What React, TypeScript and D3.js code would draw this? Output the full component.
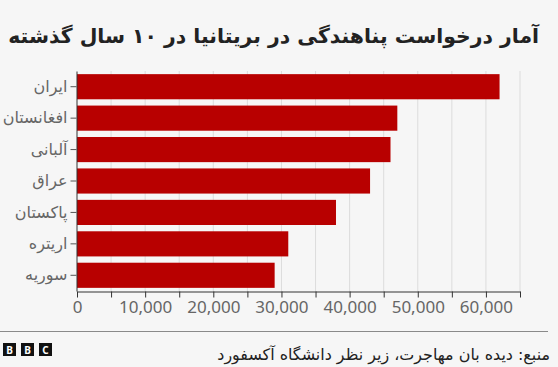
import React, { useEffect, useRef } from 'react';
import * as d3 from 'd3';

const countries = ['ایران', 'افغانستان', 'آلبانی', 'عراق', 'پاکستان', 'اریتره', 'سوریه'];
const applications = [62000, 47000, 46000, 43000, 38000, 31000, 29000];
const tickValues = [0, 5000, 10000, 15000, 20000, 25000, 30000, 35000, 40000, 45000, 50000, 55000, 60000, 65000];
const labelledTicks = [0, 10000, 20000, 30000, 40000, 50000, 60000];

const title = 'آمار درخواست پناهندگی در بریتانیا در ۱۰ سال گذشته';
const source = 'منبع: دیده بان مهاجرت، زیر نظر دانشگاه آکسفورد';

const persianFont = '"DejaVu Sans", "Noto Sans", sans-serif';
const latinFont = '"Noto Sans", "Open Sans", sans-serif';

// shrink/grow a text's font size so it takes the wanted width
const fitWidth = (sel: d3.Selection<SVGTextElement, unknown, null, undefined>, size: number, target: number) => {
  const w = sel.node()!.getComputedTextLength();
  if (w > 0) sel.style('font-size', `${(size * target) / w}px`);
};

export default function App() {
  const ref = useRef<HTMLDivElement>(null);

  useEffect(() => {
    document.body.style.margin = '0';
    if (!ref.current) return;
    d3.select(ref.current).selectAll('*').remove();

    const width = 558;
    const height = 367;
    const margin = { top: 71, right: 38, bottom: 76, left: 77 };

    const svg = d3
      .select(ref.current)
      .append('svg')
      .attr('width', width)
      .attr('height', height)
      .style('display', 'block')
      .style('background', '#f6f6f6');

    const data = countries.map((c, i) => ({ country: c, value: applications[i] }));

    const x = d3
      .scaleLinear()
      .domain([0, 65000])
      .range([margin.left, width - margin.right]);

    const y = d3
      .scaleBand<string>()
      .domain(countries)
      .range([margin.top, height - margin.bottom])
      .paddingInner(0.2)
      .paddingOuter(0.1);

    const axisY = height - margin.bottom;

    // Title (rtl: "start" anchors the right edge)
    const titleText = svg
      .append('text')
      .attr('x', 539)
      .attr('y', 43)
      .attr('text-anchor', 'start')
      .attr('direction', 'rtl')
      .style('font-family', persianFont)
      .style('font-weight', 'bold')
      .style('font-size', '20px')
      .attr('fill', '#222')
      .text(title);
    fitWidth(titleText as any, 20, 531);

    // Gridlines
    svg
      .append('g')
      .selectAll('line')
      .data(tickValues.slice(1))
      .join('line')
      .attr('x1', (d) => x(d))
      .attr('x2', (d) => x(d))
      .attr('y1', margin.top)
      .attr('y2', axisY)
      .attr('stroke', '#dcdcdc')
      .attr('stroke-width', 1);

    // Bars
    svg
      .append('g')
      .selectAll('rect')
      .data(data)
      .join('rect')
      .attr('x', x(0))
      .attr('y', (d) => y(d.country)!)
      .attr('width', (d) => x(d.value) - x(0))
      .attr('height', y.bandwidth())
      .attr('fill', '#b80000');

    // X axis
    const xAxis = svg
      .append('g')
      .attr('transform', `translate(0,${axisY + 0.5})`)
      .call(
        d3
          .axisBottom(x)
          .tickValues(tickValues)
          .tickSize(6)
          .tickSizeOuter(0)
          .tickFormat((d) => (labelledTicks.includes(+d) ? d3.format(',')(+d) : ''))
      );
    xAxis.select('.domain').attr('stroke', '#333');
    xAxis.selectAll('.tick line').attr('stroke', '#333');
    xAxis
      .selectAll('.tick text')
      .attr('y', 9)
      .style('font-family', latinFont)
      .style('font-size', '17px')
      .attr('fill', '#666');

    // Y axis
    const yAxis = svg
      .append('g')
      .attr('transform', `translate(${x(0) - 0.5},0)`)
      .call(d3.axisLeft(y).tickSize(6).tickSizeOuter(0).tickPadding(3));
    yAxis.select('.domain').attr('stroke', '#333');
    yAxis.selectAll('.tick line').attr('stroke', '#555');
    yAxis
      .selectAll('.tick text')
      .style('font-family', persianFont)
      .style('font-size', '16px')
      .attr('fill', '#666');

    // Footer
    svg
      .append('line')
      .attr('x1', 0)
      .attr('x2', 548)
      .attr('y1', 331.5)
      .attr('y2', 331.5)
      .attr('stroke', '#8a8a8a')
      .attr('stroke-width', 1);

    const logo = svg.append('g').attr('transform', 'translate(3,343)');
    ['B', 'B', 'C'].forEach((letter, i) => {
      logo
        .append('rect')
        .attr('x', i * 18)
        .attr('y', 0)
        .attr('width', 13)
        .attr('height', 13)
        .attr('fill', '#111');
      logo
        .append('text')
        .attr('x', i * 18 + 6.5)
        .attr('y', 10.5)
        .attr('text-anchor', 'middle')
        .style('font-family', latinFont)
        .style('font-weight', 'bold')
        .style('font-size', '10px')
        .attr('fill', '#fff')
        .text(letter);
    });

    const sourceText = svg
      .append('text')
      .attr('x', 550)
      .attr('y', 360)
      .attr('text-anchor', 'start')
      .attr('direction', 'rtl')
      .style('font-family', persianFont)
      .style('font-size', '15px')
      .attr('fill', '#222')
      .text(source);
    fitWidth(sourceText as any, 15, 333);
  }, []);

  return <div ref={ref}></div>;
}
